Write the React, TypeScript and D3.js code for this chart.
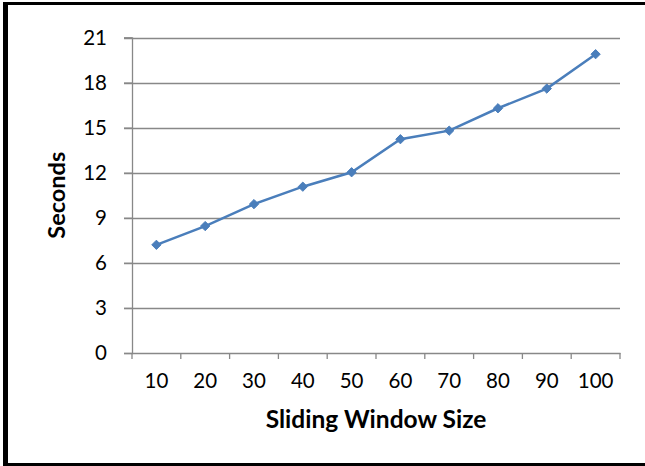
import * as d3 from "d3";
import { useEffect, useRef } from "react";

const categories = ["10", "20", "30", "40", "50", "60", "70", "80", "90", "100"];
const seconds = [7.2, 8.45, 9.91, 11.07, 12.03, 14.23, 14.8, 16.29, 17.6, 19.89];
const yTicks = [0, 3, 6, 9, 12, 15, 18, 21];

export default function App() {
  const ref = useRef<SVGSVGElement | null>(null);

  useEffect(() => {
    if (!ref.current) return;
    const width = 645;
    const height = 466;
    const margin = { top: 37.5, right: 25, bottom: 113, left: 132 };
    const font = "Lato, 'Open Sans', sans-serif";

    const svg = d3.select(ref.current);
    svg.selectAll("*").remove();

    const x = d3
      .scaleBand()
      .domain(categories)
      .range([margin.left, width - margin.right]);

    const y = d3
      .scaleLinear()
      .domain([0, 21])
      .range([height - margin.bottom, margin.top]);

    // frame
    svg.append("rect").attr("width", width).attr("height", height).attr("fill", "#fff");
    svg.append("rect").attr("x", 3).attr("y", 2).attr("width", 650).attr("height", 3).attr("fill", "#000");
    svg.append("rect").attr("x", 3).attr("y", 2).attr("width", 5).attr("height", 464).attr("fill", "#000");
    svg.append("rect").attr("x", 3).attr("y", 463).attr("width", 650).attr("height", 3).attr("fill", "#000");

    // gridlines
    svg
      .append("g")
      .selectAll("line")
      .data(yTicks.filter((d) => d > 0))
      .join("line")
      .attr("x1", margin.left - 8)
      .attr("x2", width - margin.right)
      .attr("y1", (d) => Math.round(y(d)) + 0.5)
      .attr("y2", (d) => Math.round(y(d)) + 0.5)
      .attr("stroke", "#888")
      .attr("stroke-width", 1.3);

    // y axis
    const yAxis = svg
      .append("g")
      .attr("transform", `translate(${margin.left},0)`)
      .call(d3.axisLeft(y).tickValues(yTicks).tickSize(8).tickPadding(17));
    yAxis.select(".domain").attr("stroke", "#888").attr("stroke-width", 1.3);
    yAxis.selectAll(".tick line").attr("stroke", "#888").attr("stroke-width", 1.3);
    yAxis
      .selectAll(".tick text")
      .attr("font-family", font)
      .attr("font-size", 20.5)
      .attr("fill", "#000");

    // x axis
    const xAxis = svg
      .append("g")
      .attr("transform", `translate(0,${height - margin.bottom})`)
      .call(d3.axisBottom(x).tickSize(0).tickPadding(20));
    xAxis.select(".domain").attr("stroke", "#888").attr("stroke-width", 1.3);
    xAxis
      .selectAll(".tick text")
      .attr("font-family", font)
      .attr("font-size", 20.5)
      .attr("fill", "#000");
    // tick marks between categories
    xAxis
      .append("g")
      .selectAll("line")
      .data(d3.range(categories.length + 1))
      .join("line")
      .attr("x1", (i) => margin.left + i * x.bandwidth())
      .attr("x2", (i) => margin.left + i * x.bandwidth())
      .attr("y1", 0)
      .attr("y2", 6)
      .attr("stroke", "#888")
      .attr("stroke-width", 1.3);

    // axis titles
    svg
      .append("text")
      .attr("x", (margin.left + width - margin.right) / 2)
      .attr("y", 428)
      .attr("text-anchor", "middle")
      .attr("font-family", font)
      .attr("font-weight", "bold")
      .attr("font-size", 24.5)
      .text("Sliding Window Size");

    svg
      .append("text")
      .attr("transform", `translate(65,${(margin.top + height - margin.bottom) / 2}) rotate(-90)`)
      .attr("text-anchor", "middle")
      .attr("font-family", font)
      .attr("font-weight", "bold")
      .attr("font-size", 23.5)
      .text("Seconds");

    // line
    const line = d3
      .line<number>()
      .x((_, i) => x(categories[i])! + x.bandwidth() / 2)
      .y((d) => y(d));

    svg
      .append("path")
      .datum(seconds)
      .attr("d", line)
      .attr("fill", "none")
      .attr("stroke", "#4a7ebb")
      .attr("stroke-width", 2.5);

    svg
      .append("g")
      .selectAll("path")
      .data(seconds)
      .join("path")
      .attr("d", d3.symbol(d3.symbolDiamond2, 55)())
      .attr("transform", (d, i) => `translate(${x(categories[i])! + x.bandwidth() / 2},${y(d)})`)
      .attr("fill", "#4a7ebb")
      .attr("stroke", "#4a7ebb")
      .attr("stroke-width", 1);
  }, []);

  return (
    <svg
      ref={ref}
      width={645}
      height={466}
      style={{ position: "absolute", left: 0, top: 0 }}
    ></svg>
  );
}
